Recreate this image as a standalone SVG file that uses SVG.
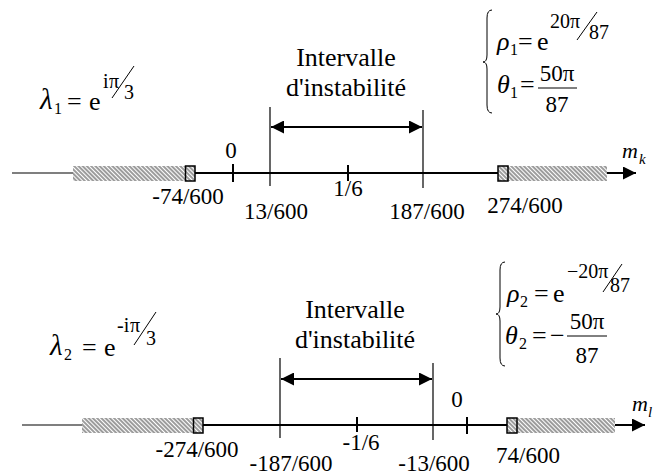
<svg xmlns="http://www.w3.org/2000/svg" width="653" height="476" viewBox="0 0 653 476" font-family="'Liberation Serif','Times New Roman',serif">
<defs>
<style>
.t{font-family:"Liberation Serif","Times New Roman",serif;fill:#000}
.n{font-size:23px;text-anchor:middle}
.lb{font-size:26px;text-anchor:middle}
.m{font-size:26px}
.lam{font-size:29px}
.i{font-style:italic}
.sp{font-size:20px}
.sb{font-size:16px}
.fr{font-size:23px;text-anchor:middle}
.ax{stroke:#000;stroke-width:2;fill:none}
.tn{stroke:#000;stroke-width:1.2;fill:none}
.tk{stroke:#000;stroke-width:2}
.sq{stroke:#000;stroke-width:1.5;fill:none}
.hb{fill:#fff}
.hp{fill:url(#hatch)}
.br{stroke:#000;stroke-width:1;fill:none}
</style>
<pattern id="hatch" patternUnits="userSpaceOnUse" width="3" height="10" patternTransform="rotate(-45)">
<line x1="1" y1="0" x2="1" y2="10" stroke="#222" stroke-width="0.9"/>
</pattern>
<marker id="ah" markerUnits="userSpaceOnUse" markerWidth="14" markerHeight="13" refX="13" refY="6.5" orient="auto-start-reverse" viewBox="0 0 14 13">
<path d="M0,0 L13,6.5 L0,13 z" fill="#000"/>
</marker>
</defs>
<rect width="653" height="476" fill="#fff"/>

<g id="connectors">
<line class="tn" x1="12" y1="173" x2="195" y2="173"/>
<line class="ax" x1="195" y1="173" x2="636" y2="173" marker-end="url(#ah)"/>
<line class="ax" x1="271" y1="127" x2="422" y2="127" marker-start="url(#ah)" marker-end="url(#ah)"/>
<line class="tn" x1="22" y1="425" x2="203" y2="425"/>
<line class="ax" x1="203" y1="425" x2="645" y2="425" marker-end="url(#ah)"/>
<line class="ax" x1="281" y1="379" x2="432" y2="379" marker-start="url(#ah)" marker-end="url(#ah)"/>
</g>

<g id="hatch1-left">
<rect class="hb" x="73" y="166" width="122" height="15"/>
<rect class="hp" x="73" y="166" width="122" height="15"/>
<rect class="sq" x="185.5" y="166" width="9.5" height="15"/>
</g>
<g id="hatch1-right">
<rect class="hb" x="498" y="166" width="109" height="15"/>
<rect class="hp" x="498" y="166" width="109" height="15"/>
<rect class="sq" x="498" y="166" width="10" height="15"/>
</g>
<g id="ticks1">
<line class="tk" x1="233" y1="164" x2="233" y2="182"/>
<line class="tk" x1="348" y1="165" x2="348" y2="181"/>
<line class="tn" x1="270" y1="107" x2="270" y2="186"/>
<line class="tn" x1="423" y1="110" x2="423" y2="188"/>
</g>
<g id="labels1">
<text class="t n" x="231" y="158">0</text>
<text class="t n" x="188" y="204">-74/600</text>
<text class="t n" x="276" y="219">13/600</text>
<text class="t n" x="348" y="196">1/6</text>
<text class="t n" x="427" y="219">187/600</text>
<text class="t n" x="525" y="213">274/600</text>
<text class="t lb" x="346" y="66">Intervalle</text>
<text class="t lb" x="346" y="96">d'instabilité</text>
<text class="t i" x="622" y="158" font-size="22">m</text>
<text class="t i" x="639" y="164" font-size="15">k</text>
</g>
<g id="lambda1">
<text class="t lam i" x="40" y="109">λ</text>
<text class="t sb" x="54" y="114">1</text>
<text class="t m" x="67" y="110">=</text>
<text class="t m" x="89" y="110">e</text>
<text class="t sp" x="103" y="88">i</text>
<text class="t sp" x="109" y="88">π</text>
<line class="br" x1="112" y1="98" x2="134" y2="66" stroke-width="1.2"/>
<text class="t sp" x="124" y="99">3</text>
</g>
<g id="system1">
<path class="br" d="M492,10 Q487,10 487,18 L487,55 Q487,62 483,62 Q487,62 487,69 L487,105 Q487,113 492,113"/>
<text class="t m i" x="497" y="50">ρ</text>
<text class="t sb" x="510" y="55">1</text>
<text class="t m" x="518" y="50">=</text>
<text class="t m" x="537" y="50">e</text>
<text class="t sp" x="550" y="28">20π</text>
<line class="br" x1="577" y1="40" x2="597" y2="12" stroke-width="1.2"/>
<text class="t sp" x="589" y="39">87</text>
<text class="t m i" x="497" y="93">θ</text>
<text class="t sb" x="510" y="98">1</text>
<text class="t m" x="520" y="93">=</text>
<line class="br" x1="538" y1="88" x2="577" y2="88" stroke-width="1.2"/>
<text class="t fr" x="557" y="81">50π</text>
<text class="t fr" x="557" y="112">87</text>
</g>

<g id="hatch2-left">
<rect class="hb" x="82" y="418" width="121" height="15"/>
<rect class="hp" x="82" y="418" width="121" height="15"/>
<rect class="sq" x="193.5" y="418" width="9.5" height="15"/>
</g>
<g id="hatch2-right">
<rect class="hb" x="507" y="418" width="108" height="15"/>
<rect class="hp" x="507" y="418" width="108" height="15"/>
<rect class="sq" x="507" y="418" width="10" height="15"/>
</g>
<g id="ticks2">
<line class="tk" x1="357" y1="417" x2="357" y2="432"/>
<line class="tk" x1="467" y1="417" x2="467" y2="434"/>
<line class="tn" x1="280" y1="358" x2="280" y2="438"/>
<line class="tn" x1="433" y1="363" x2="433" y2="440"/>
</g>
<g id="labels2">
<text class="t n" x="457" y="407">0</text>
<text class="t n" x="197" y="457">-274/600</text>
<text class="t n" x="291" y="471">-187/600</text>
<text class="t n" x="361" y="450">-1/6</text>
<text class="t n" x="434" y="471">-13/600</text>
<text class="t n" x="528" y="463">74/600</text>
<text class="t lb" x="355" y="318">Intervalle</text>
<text class="t lb" x="355" y="348">d'instabilité</text>
<text class="t i" x="632" y="411" font-size="22">m</text>
<text class="t i" x="648" y="417" font-size="15">l</text>
</g>
<g id="lambda2">
<text class="t lam i" x="50" y="355">λ</text>
<text class="t sb" x="64" y="360">2</text>
<text class="t m" x="82" y="356">=</text>
<text class="t m" x="104" y="356">e</text>
<text class="t sp" x="117" y="332">-i</text>
<text class="t sp" x="130" y="332">π</text>
<line class="br" x1="134" y1="345" x2="156" y2="312" stroke-width="1.2"/>
<text class="t sp" x="146" y="345">3</text>
</g>
<g id="system2">
<path class="br" d="M505,262 Q500,262 500,270 L500,307 Q500,314 496,314 Q500,314 500,321 L500,358 Q500,366 505,366"/>
<text class="t m i" x="507" y="302">ρ</text>
<text class="t sb" x="520" y="307">2</text>
<text class="t m" x="534" y="302">=</text>
<text class="t m" x="553" y="302">e</text>
<text class="t sp" x="567" y="278">−20π</text>
<line class="br" x1="603" y1="292" x2="622" y2="264" stroke-width="1.2"/>
<text class="t sp" x="610" y="292">87</text>
<text class="t m i" x="505" y="344">θ</text>
<text class="t sb" x="519" y="349">2</text>
<text class="t m" x="532" y="344">=</text>
<text class="t m" x="550" y="344">−</text>
<line class="br" x1="567" y1="336" x2="607" y2="336" stroke-width="1.2"/>
<text class="t fr" x="587" y="329">50π</text>
<text class="t fr" x="587" y="363">87</text>
</g>
</svg>
